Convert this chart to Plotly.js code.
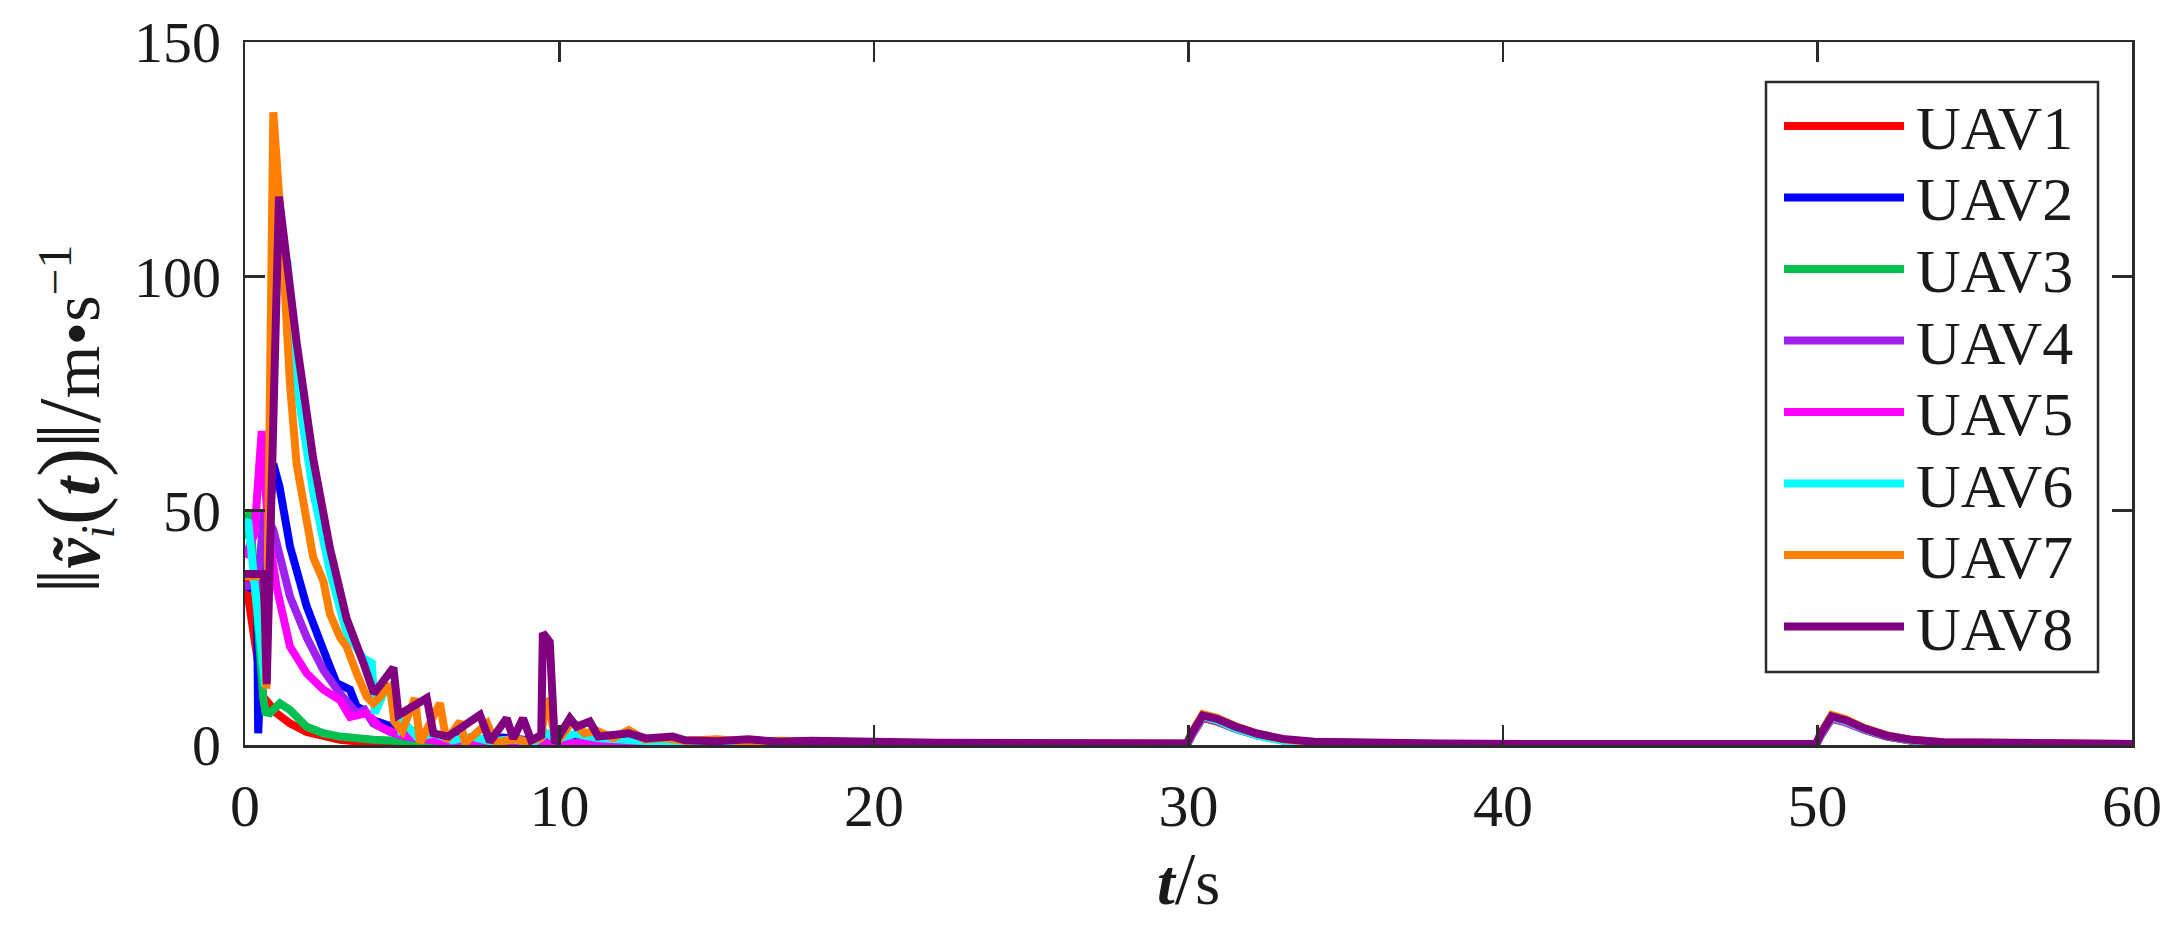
<!DOCTYPE html>
<html>
<head>
<meta charset="utf-8">
<script src="https://cdn.plot.ly/plotly-3.0.1.min.js"></script>
<style>html,body{margin:0;padding:0;background:#fff;}#chart{width:2184px;height:937px;}</style>
</head>
<body>
<div id="chart"></div>
<script>
// ---- Data ----
const seriesNames = ['UAV1','UAV2','UAV3','UAV4','UAV5','UAV6','UAV7','UAV8'];
const seriesColors = ['#FF0000','#0000FF','#00C050','#A020F0','#FF00FF','#00FFFF','#FF8000','#800080'];

const xTicks = [0, 10, 20, 30, 40, 50, 60];
const yTicks = [0, 50, 100, 150];

// shared time grid for the late part (t >= 14 s)
const tTail = [14, 15, 16, 17, 18, 19, 20, 22, 24, 26, 28, 29.95, 30.1, 30.45, 30.9, 31.5, 32.2, 33, 34, 35.5, 38, 42, 46, 49.95, 50.1, 50.45, 50.9, 51.5, 52.2, 53, 54, 55.5, 58, 60];

// UAV1
const t1 = [0, 0.58, 1.0, 1.43, 1.96, 2.49, 3.02, 3.5, 4.08, 5, 6, 8, 10, 12];
const v1 = [36, 10.3, 6.8, 4.6, 2.8, 1.8, 1.1, 0.8, 0.4, 0.2, 0.1, 0.1, 0.1, 0.1];
const tail1 = [0.1,0.1,0.1,0.05,0.05,0.05,0.05,0.05,0.05,0.05,0.05,0.05, 2.0,5.8,5.0,3.4,2.0,1.0,0.5,0.2,0.1,0.05,0.05,0.05, 2.0,5.6,4.8,3.2,1.8,0.9,0.4,0.2,0.1,0.05];

// UAV2
const t2 = [0, 0.38, 0.42, 0.6, 0.9, 1.1, 1.43, 1.96, 2.49, 2.91, 3.34, 3.55, 3.76, 4.08, 4.5, 5.0, 5.5, 6.0, 6.8, 7.5, 8.2, 9.0, 9.8, 10.5, 11.2, 12.0, 12.6, 13.3];
const v2 = [34, 33, 2.5, 30, 60, 55, 42.4, 29.6, 20.3, 13.2, 11.8, 8.2, 7.5, 5.3, 4.3, 3.6, 2.8, 2.0, 1.5, 1.2, 1.6, 1.0, 1.3, 1.8, 1.5, 1.0, 0.8, 0.9];
const tail2 = [0.7,0.6,0.5,0.6,0.4,0.4,0.3,0.3,0.2,0.2,0.2,0.2, 2.2,6.0,5.2,3.6,2.2,1.1,0.5,0.2,0.1,0.1,0.05,0.05, 2.1,5.8,5.0,3.3,1.9,1.0,0.5,0.3,0.1,0.1];

// UAV3
const t3 = [0, 0.15, 0.58, 0.65, 0.79, 1.11, 1.43, 1.96, 2.49, 3.02, 4.08, 5.1, 6, 7, 8, 10, 12];
const v3 = [44, 50, 10, 7, 6.8, 8.9, 7.5, 3.9, 2.5, 1.8, 1.1, 0.7, 0.4, 0.3, 0.2, 0.2, 0.1];
const tail3 = [0.1,0.1,0.1,0.1,0.05,0.05,0.05,0.05,0.05,0.05,0.05,0.05, 2.1,5.9,5.1,3.5,2.1,1.0,0.5,0.2,0.1,0.05,0.05,0.05, 2.0,5.7,4.9,3.2,1.8,0.9,0.4,0.2,0.1,0.05];

// UAV4
const t4 = [0, 0.42, 0.6, 0.9, 1.43, 1.96, 2.49, 3.02, 3.55, 3.8, 4.08, 4.6, 5.1, 5.6, 6.2, 7, 8, 9, 10, 11, 12, 13];
const v4 = [34, 34, 50, 45.9, 31.7, 23, 16, 11, 6.8, 7.5, 4.6, 2.8, 1.8, 1.2, 0.8, 0.6, 0.5, 0.4, 0.5, 0.4, 0.3, 0.3];
const tail4 = [0.3,0.3,0.4,0.3,0.3,0.2,0.2,0.2,0.2,0.1,0.1,0.1, 2.2,6.1,5.3,3.6,2.2,1.1,0.5,0.3,0.1,0.1,0.05,0.05, 2.1,5.9,5.0,3.3,1.9,1.0,0.5,0.3,0.1,0.1];

// UAV5
const t5 = [0, 0.3, 0.53, 0.75, 1.0, 1.22, 1.43, 1.96, 2.49, 3.02, 3.34, 3.87, 4.29, 4.9, 5.56, 6.2, 7, 8, 9, 10, 11, 12, 13];
const v5 = [40, 45, 67, 45, 33.8, 26.7, 21, 15.3, 11.8, 9.6, 6, 6.8, 3.9, 2.2, 1.4, 0.9, 0.7, 0.5, 0.6, 0.4, 0.4, 0.3, 0.3];
const tail5 = [0.3,0.2,0.3,0.2,0.2,0.2,0.2,0.1,0.1,0.1,0.1,0.1, 2.1,6.0,5.2,3.5,2.1,1.0,0.5,0.2,0.1,0.05,0.05,0.05, 2.0,5.8,4.9,3.3,1.9,1.0,0.5,0.2,0.1,0.05];

// UAV6
const t6 = [0, 0.1, 0.45, 0.64, 0.85, 1.05, 1.35, 1.64, 2.17, 2.7, 3.23, 3.76, 4.03, 4.13, 4.4, 4.7, 4.96, 5.17, 5.5, 6.0, 6.6, 7.2, 7.8, 8.5, 9.2, 9.6, 9.9, 10.5, 11.2, 12, 12.8, 13.5];
const v6 = [47, 48, 25, 12.5, 70, 108, 103, 77, 54, 37, 24, 18.5, 17.5, 6.8, 11, 13, 3.2, 4, 1.5, 2.5, 1.0, 1.8, 0.8, 1.2, 0.6, 2.5, 1.2, 2.4, 1.5, 1.0, 0.8, 0.7];
const tail6 = [0.6,0.5,0.7,0.5,0.4,0.4,0.3,0.3,0.2,0.2,0.2,0.2, 2.3,6.2,5.3,3.5,2.0,0.9,0.3,0.1,0.1,0.1,0.05,0.05, 2.2,6.0,5.1,3.4,2.0,1.0,0.5,0.3,0.2,0.1];

// UAV7
const t7 = [0, 0.6, 0.68, 0.9, 1.16, 1.43, 1.64, 1.96, 2.17, 2.49, 2.7, 3.02, 3.23, 3.55, 3.87, 4.08, 4.29, 4.6, 4.75, 5.0, 5.4, 5.57, 6.2, 6.4, 6.84, 7.0, 7.7, 7.95, 8.5, 9.0, 9.4, 9.6, 9.9, 10.4, 10.8, 11.2, 11.7, 12.2, 12.7, 13.3];
const v7 = [36, 36, 12, 135, 110, 77, 60, 49, 40, 35, 28, 23, 21, 15.3, 10.3, 8.9, 10.3, 13, 5, 3, 10, 0.5, 8.9, 1, 5, 0.5, 4.6, 0.5, 1.2, 0.8, 1.5, 10, 0.5, 5, 2.5, 3, 1.5, 3.2, 1.2, 1.5];
const tail7 = [0.9,1.2,0.7,0.9,0.6,0.7,0.5,0.4,0.4,0.3,0.3,0.3, 2.6,6.6,5.8,4.0,2.4,1.2,0.6,0.3,0.2,0.1,0.1,0.1, 2.5,6.4,5.5,3.6,2.1,1.1,0.6,0.4,0.3,0.2];

// UAV8
const t8 = [0, 0.6, 0.69, 1.08, 1.64, 2.17, 2.7, 3.23, 3.76, 4.1, 4.72, 4.88, 5.78, 5.99, 6.46, 7.47, 7.79, 8.32, 8.53, 8.84, 9.1, 9.42, 9.47, 9.69, 9.85, 10.33, 10.54, 10.96, 11.23, 11.7, 12.2, 12.75, 13.28, 13.6];
const v8 = [36.5, 36.5, 13, 117, 86, 61, 42, 27, 17.6, 11, 16.5, 6.4, 10, 2.5, 1.8, 6.4, 0.7, 5.7, 1.4, 5.7, 1, 2.1, 23.9, 22, 0.4, 5.7, 3.9, 5, 1.8, 2.1, 2.5, 1.4, 1.4, 1.8];
const tail8 = [1.0,0.8,1.2,0.7,0.9,0.6,0.7,0.5,0.5,0.4,0.4,0.3, 2.4,6.3,5.6,3.9,2.4,1.3,0.7,0.4,0.3,0.2,0.2,0.2, 2.3,6.1,5.3,3.5,2.0,1.1,0.6,0.4,0.3,0.2];

// ---- Build traces ----
const early = [[t1,v1],[t2,v2],[t3,v3],[t4,v4],[t5,v5],[t6,v6],[t7,v7],[t8,v8]];
const tails = [tail1,tail2,tail3,tail4,tail5,tail6,tail7,tail8];
const lineWidth = 8;

const traces = seriesNames.map((name, i) => ({
  type: 'scatter',
  mode: 'lines',
  name: name,
  x: early[i][0].concat(tTail),
  y: early[i][1].concat(tails[i]),
  line: {color: seriesColors[i], width: lineWidth},
  showlegend: false
}));

// ---- Layout geometry (pixels) ----
const W = 2184, H = 937;
const M = {l: 245, r: 52, t: 42, b: 192};
const plotW = W - M.l - M.r, plotH = H - M.t - M.b;
const px = x => (x - M.l) / plotW;          // page px -> paper x
const py = y => (H - M.b - y) / plotH;      // page px -> paper y

const axisColor = '#2b2b2b';
const textColor = '#1a1a1a';
const fontFamily = '"Liberation Serif", "Times New Roman", "DejaVu Serif", serif';

// legend box (MATLAB style: long line samples)
const LG = {left: 1766, right: 2098, top: 82, bottom: 672, row0: 126, rowGap: 71.5, lineX0: 1784, lineX1: 1904, textX: 1914, fontSize: 62};

const shapes = [{
  type: 'rect', xref: 'paper', yref: 'paper', layer: 'above',
  x0: px(LG.left), x1: px(LG.right), y0: py(LG.bottom), y1: py(LG.top),
  line: {color: axisColor, width: 2.5}, fillcolor: '#ffffff'
}];
const annotations = [];
seriesNames.forEach((name, i) => {
  const yy = LG.row0 + i * LG.rowGap;
  shapes.push({
    type: 'line', xref: 'paper', yref: 'paper', layer: 'above',
    x0: px(LG.lineX0), x1: px(LG.lineX1), y0: py(yy), y1: py(yy),
    line: {color: seriesColors[i], width: lineWidth}
  });
  annotations.push({
    xref: 'paper', yref: 'paper', x: px(LG.textX), y: py(yy + 2),
    xanchor: 'left', yanchor: 'middle', showarrow: false,
    text: name, font: {size: LG.fontSize, family: fontFamily, color: textColor}
  });
});

const big = (s, sz) => '<span style="font-size:' + sz + 'px">' + s + '</span>';
const yTitle = big('‖', 88) + '<b><i>ṽ</i></b><sub><i>i</i></sub>' + big('(', 88) + '<b><i>t</i></b>' + big(')', 88) + big('‖', 88) + big('/', 88) + 'm•s<sup>−1</sup>&nbsp;&nbsp;&nbsp;';
const xTitle = '<b><i>t</i></b>' + big('/', 74) + 's';

const layout = {
  width: W,
  height: H,
  margin: M,
  paper_bgcolor: '#ffffff',
  plot_bgcolor: '#ffffff',
  font: {family: fontFamily, color: textColor},
  showlegend: false,
  xaxis: {
    range: [0, 60],
    tickvals: xTicks,
    ticktext: xTicks.map(String),
    ticks: 'inside',
    ticklen: 20,
    tickwidth: 2.5,
    tickcolor: axisColor,
    showline: true,
    linecolor: axisColor,
    linewidth: 2.5,
    mirror: 'ticks',
    showgrid: false,
    zeroline: false,
    tickfont: {size: 60, family: fontFamily, color: textColor},
    ticklabelstandoff: 6,
    title: {text: xTitle, font: {size: 64, family: fontFamily, color: textColor}, standoff: 0}
  },
  yaxis: {
    range: [0, 150],
    tickvals: yTicks,
    ticktext: yTicks.map(String),
    ticks: 'inside',
    ticklen: 20,
    tickwidth: 2.5,
    tickcolor: axisColor,
    showline: true,
    linecolor: axisColor,
    linewidth: 2.5,
    mirror: 'ticks',
    showgrid: false,
    zeroline: false,
    tickfont: {size: 58, family: fontFamily, color: textColor},
    ticklabelstandoff: 10,
    title: {text: yTitle, font: {size: 68, family: fontFamily, color: textColor}, standoff: 12}
  },
  shapes: shapes,
  annotations: annotations
};

Plotly.newPlot('chart', traces, layout, {displayModeBar: false, staticPlot: true});
</script>
</body>
</html>
